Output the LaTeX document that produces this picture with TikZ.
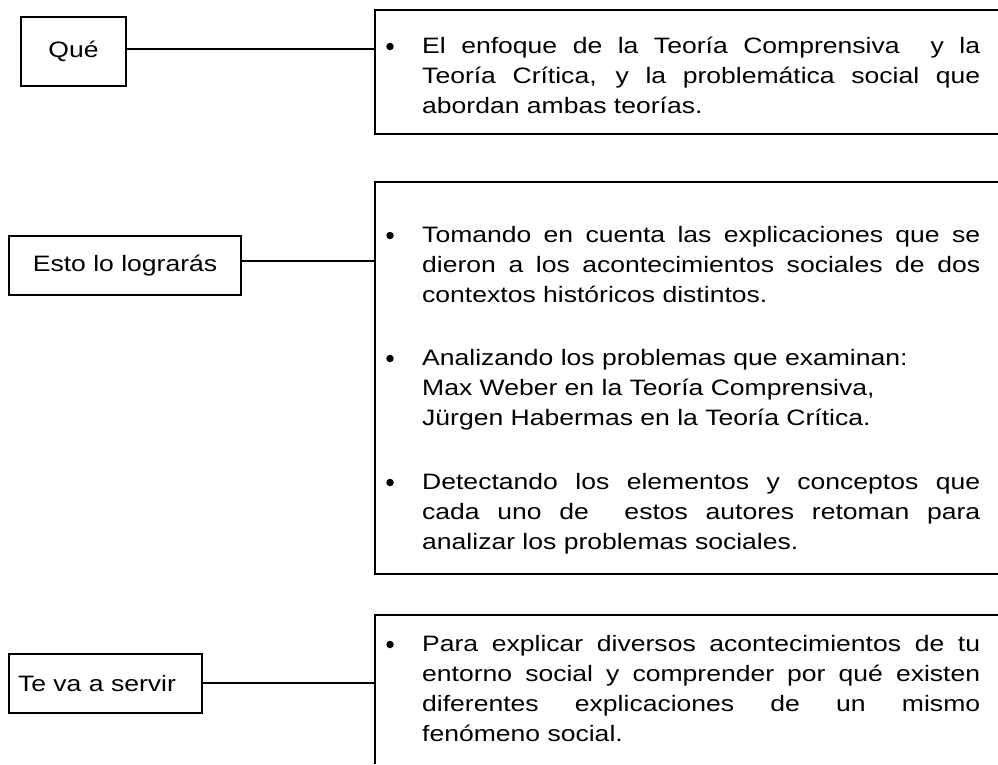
\documentclass[tikz,border=0pt]{standalone}
\usepackage{fontspec}
\setmainfont{Liberation Sans}[FakeStretch=1.19]
\newcommand{\jline}[1]{\makebox[558pt][s]{#1}\par}
\newcommand{\parblock}[1]{\vtop{\hsize=558pt\parindent=0pt\parskip=0pt\baselineskip=30pt\lineskiplimit=-100pt\lineskip=0pt #1}}
\begin{document}
\begin{tikzpicture}[x=1pt,y=-1pt,
  every node/.style={font=\fontsize{22.3}{30}\selectfont},
  lbox/.style={draw, line width=1.3pt, inner sep=0pt, align=center},
  rbox/.style={line width=1.7pt},
  conn/.style={line width=1.2pt},
  para/.style={anchor=base west, inner sep=0pt},
  bul/.style={circle, fill=black, inner sep=0pt, minimum size=7.5pt}]
\useasboundingbox (0,0) rectangle (998,764);

% left boxes
\node[lbox, minimum width=105pt, minimum height=69pt] (que) at (73.5,51.5) {Qué};
\node[lbox, minimum width=232pt, minimum height=59pt] (esto) at (125,265.5) {Esto lo lograrás};
\node[lbox, text width=175pt, align=left, inner xsep=9pt, minimum height=59pt] (teva) at (105.5,683.5) {Te va a servir};

% right boxes (open on the right)
\coordinate (r1) at (375,49);
\coordinate (r2) at (375,261);
\coordinate (r3) at (375,683);
\draw[rbox] (998,10) -- (375,10) -- (375,134) -- (998,134);
\draw[rbox] (998,182) -- (375,182) -- (375,574) -- (998,574);
\draw[rbox] (998,615) -- (375,615) -- (375,764);

% connectors
\draw[conn] (que.east |- r1) -- (r1);
\draw[conn] (esto.east |- r2) -- (r2);
\draw[conn] (teva.east |- r3) -- (r3);

% box 1 text
\node[bul] (b1) at (390,46.5) {};
\node[para] (p1) at (422,53) {\parblock{%
\jline{El enfoque de la Teoría Comprensiva \ y la}%
\jline{Teoría Crítica, y la problemática social que}%
abordan ambas teorías.}};

% box 2 text
\node[bul] (b2) at (390,235.5) {};
\node[para] (p2) at (422,242) {\parblock{%
\jline{Tomando en cuenta las explicaciones que se}%
\jline{dieron a los acontecimientos sociales de dos}%
contextos históricos distintos.}};
\node[bul] (b3) at (390,358.5) {};
\node[para] (p3) at (422,365) {\parblock{%
Analizando los problemas que examinan:\par
Max Weber en la Teoría Comprensiva,\par
Jürgen Habermas en la Teoría Crítica.}};
\node[bul] (b4) at (390,482.5) {};
\node[para] (p4) at (422,489) {\parblock{%
\jline{Detectando los elementos y conceptos que}%
\jline{cada uno de \ estos autores retoman para}%
analizar los problemas sociales.}};

% box 3 text
\node[bul] (b5) at (390,644.5) {};
\node[para] (p5) at (422,651) {\parblock{%
\jline{Para explicar diversos acontecimientos de tu}%
\jline{entorno social y comprender por qué existen}%
\jline{diferentes explicaciones de un mismo}%
fenómeno social.}};
\end{tikzpicture}
\end{document}
